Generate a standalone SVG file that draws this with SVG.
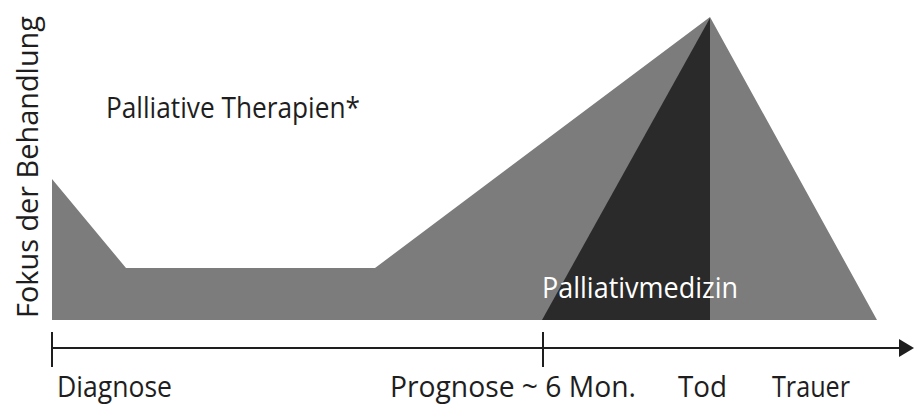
<svg xmlns="http://www.w3.org/2000/svg" width="915" height="406" viewBox="0 0 915 406">
<style>
.lbl{font-family:"Open Sans","Liberation Sans",Arial,sans-serif;fill:#1e1e1e;font-size:29px}
.axis{stroke:#1e1e1e;stroke-width:2;fill:none}
</style>
<rect width="915" height="406" fill="#ffffff"/>
<g id="palliative-therapien-area">
<polygon points="52,179 126,268 375,268 710,17 877,320 52,320" fill="#7c7c7c"/>
</g>
<g id="palliativmedizin-area">
<polygon points="542,320 710,18 710,320" fill="#2a2a2a"/>
</g>
<g id="axis">
<line class="axis" x1="51" y1="348" x2="902" y2="348"/>
<line class="axis" x1="52" y1="332" x2="52" y2="367"/>
<line class="axis" x1="543" y1="332" x2="543" y2="367"/>
<polygon points="899,339 914,348 899,357" fill="#1e1e1e"/>
</g>
<g id="labels">
<text class="lbl" transform="translate(38,318) rotate(-90)" font-size="30" textLength="302" lengthAdjust="spacingAndGlyphs">Fokus der Behandlung</text>
<text class="lbl" x="106" y="118" textLength="254" lengthAdjust="spacingAndGlyphs">Palliative Therapien*</text>
<text class="lbl" x="542" y="298" font-size="28" style="fill:#ffffff" textLength="196" lengthAdjust="spacingAndGlyphs">Palliativmedizin</text>
<text class="lbl" x="57" y="397" textLength="115" lengthAdjust="spacingAndGlyphs">Diagnose</text>
<text class="lbl" x="390" y="397" textLength="246" lengthAdjust="spacingAndGlyphs">Prognose ~ 6 Mon.</text>
<text class="lbl" x="678" y="397" textLength="49" lengthAdjust="spacingAndGlyphs">Tod</text>
<text class="lbl" x="772" y="397" textLength="78" lengthAdjust="spacingAndGlyphs">Trauer</text>
</g>
</svg>
